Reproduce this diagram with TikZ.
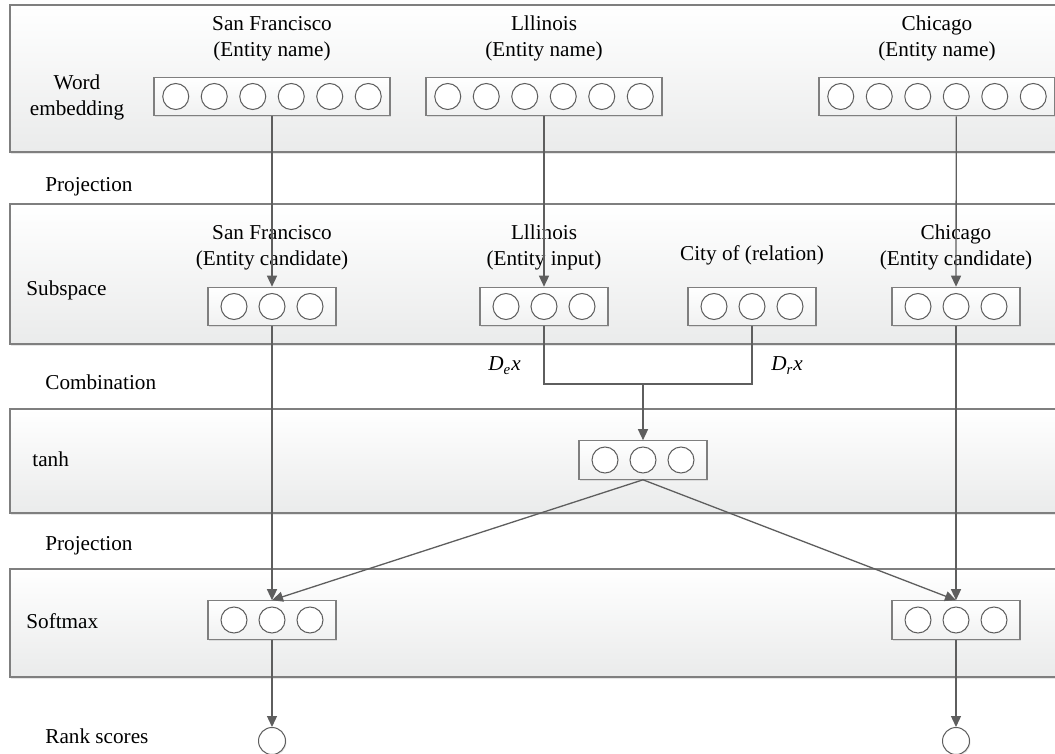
\documentclass[tikz,border=0pt]{standalone}
\usepackage{fontspec}
\setmainfont{Liberation Serif}
\usetikzlibrary{arrows.meta,calc,shadows}

\definecolor{lineGray}{HTML}{5E5E5E}
\definecolor{frameGray}{HTML}{7F7F7F}
\definecolor{bandLow}{HTML}{EAEBEB}

\tikzset{
  band/.style={draw=frameGray, line width=0.75pt, top color=white, bottom color=bandLow,
    drop shadow={shadow xshift=0.6pt, shadow yshift=-0.9pt, opacity=0.2}},
  vecbox/.style={rectangle, draw=frameGray, line width=0.6pt, top color=white, bottom color=bandLow!70,
    minimum height=19.2pt, inner sep=0pt,
    drop shadow={shadow xshift=0.6pt, shadow yshift=-0.7pt, opacity=0.2}},
  box6/.style={vecbox, minimum width=118pt},
  box3/.style={vecbox, minimum width=64pt},
  unit/.style={circle, draw=lineGray, fill=white, line width=0.5pt, minimum size=13pt, inner sep=0pt},
  score/.style={circle, draw=lineGray, fill=white, line width=0.5pt, minimum size=13.5pt, inner sep=0pt,
    drop shadow={shadow xshift=0.5pt, shadow yshift=-0.6pt, opacity=0.2}},
  caption/.style={align=center, inner sep=0pt},
  layer/.style={anchor=base west, inner sep=0pt},
  link/.style={draw=lineGray, line width=0.65pt},
  flow/.style={link, -{Triangle[length=5.5pt,width=5pt]}}
}

\begin{document}
\begin{tikzpicture}[x=0.5pt, y=-0.5pt, font=\fontsize{10.6pt}{13pt}\selectfont]
\useasboundingbox (0,0) rectangle (1055,754);

% layers
\draw[band] (10,5) rectangle (1064,152);
\draw[band] (10,204) rectangle (1064,344);
\draw[band] (10,409) rectangle (1064,513);
\draw[band] (10,569) rectangle (1064,677);

\node[caption] (wordLbl) at (77,97) {Word\\embedding};
\node[layer] (projA) at (45,192) {Projection};
\node[layer] (subLbl) at (26,296) {Subspace};
\node[layer] (combLbl) at (45,389) {Combination};
\node[layer] (tanhLbl) at (32,466) {tanh};
\node[layer] (projB) at (45,550) {Projection};
\node[layer] (softLbl) at (26,628) {Softmax};
\node[layer] (rankLbl) at (45,743) {Rank scores};

% word embedding
\node[box6, label={[caption, label distance=7.4pt]above:San Francisco\\(Entity name)}] (weSF) at (272,96.5) {};
\node[box6, label={[caption, label distance=7.4pt]above:Lllinois\\(Entity name)}] (weIL) at (544,96.5) {};
\node[box6, label={[caption, label distance=7.4pt]above:Chicago\\(Entity name)}] (weCH) at (937,96.5) {};

% subspace
\node[box3, label={[caption, label distance=8.2pt]above:San Francisco\\(Entity candidate)}] (subSF) at (272,306.5) {};
\node[box3, label={[caption, label distance=8.2pt]above:Lllinois\\(Entity input)}] (subIL) at (544,306.5) {};
\node[box3, label={[caption, label distance=10.5pt]above:City of (relation)}] (subRel) at (752,306.5) {};
\node[box3, label={[caption, label distance=8.2pt]above:Chicago\\(Entity candidate)}] (subCH) at (956,306.5) {};

% tanh and softmax
\node[box3] (comb) at (643,460) {};
\node[box3] (smSF) at (272,620) {};
\node[box3] (smCH) at (956,620) {};

\node[score] (rankSF) at (272,741) {};
\node[score] (rankCH) at (956,741) {};

\foreach \b in {weSF,weIL,weCH}
  \foreach \i in {1,...,6}
    \node[unit] (\b-\i) at ($(\b.center)+({(\i-3.5)*38.5},0)$) {};
\foreach \b in {subSF,subIL,subRel,subCH,comb,smSF,smCH}
  \foreach \i in {1,2,3}
    \node[unit] (\b-\i) at ($(\b.center)+({(\i-2)*38},0)$) {};

\node[layer] (deX) at (488,371) {\itshape D\textsubscript{e}x};
\node[layer] (drX) at (771,371) {\itshape D\textsubscript{r}x};

% connectors
\coordinate (join) at (643,384);
\draw[flow] (weSF) -- (subSF);
\draw[flow] (weIL) -- (subIL);
\draw[flow] (weCH-4 |- weCH.south) -- (subCH);
\draw[flow] (subSF) -- (smSF);
\draw[flow] (subCH) -- (smCH);
\draw[link] (subIL.south) |- (join) -| (subRel.south);
\draw[flow] (join) -- (comb);
\draw[flow] (comb.south) -- (smSF.north);
\draw[flow] (comb.south) -- (smCH.north);
\draw[flow] (smSF) -- (rankSF);
\draw[flow] (smCH) -- (rankCH);
\end{tikzpicture}
\end{document}
